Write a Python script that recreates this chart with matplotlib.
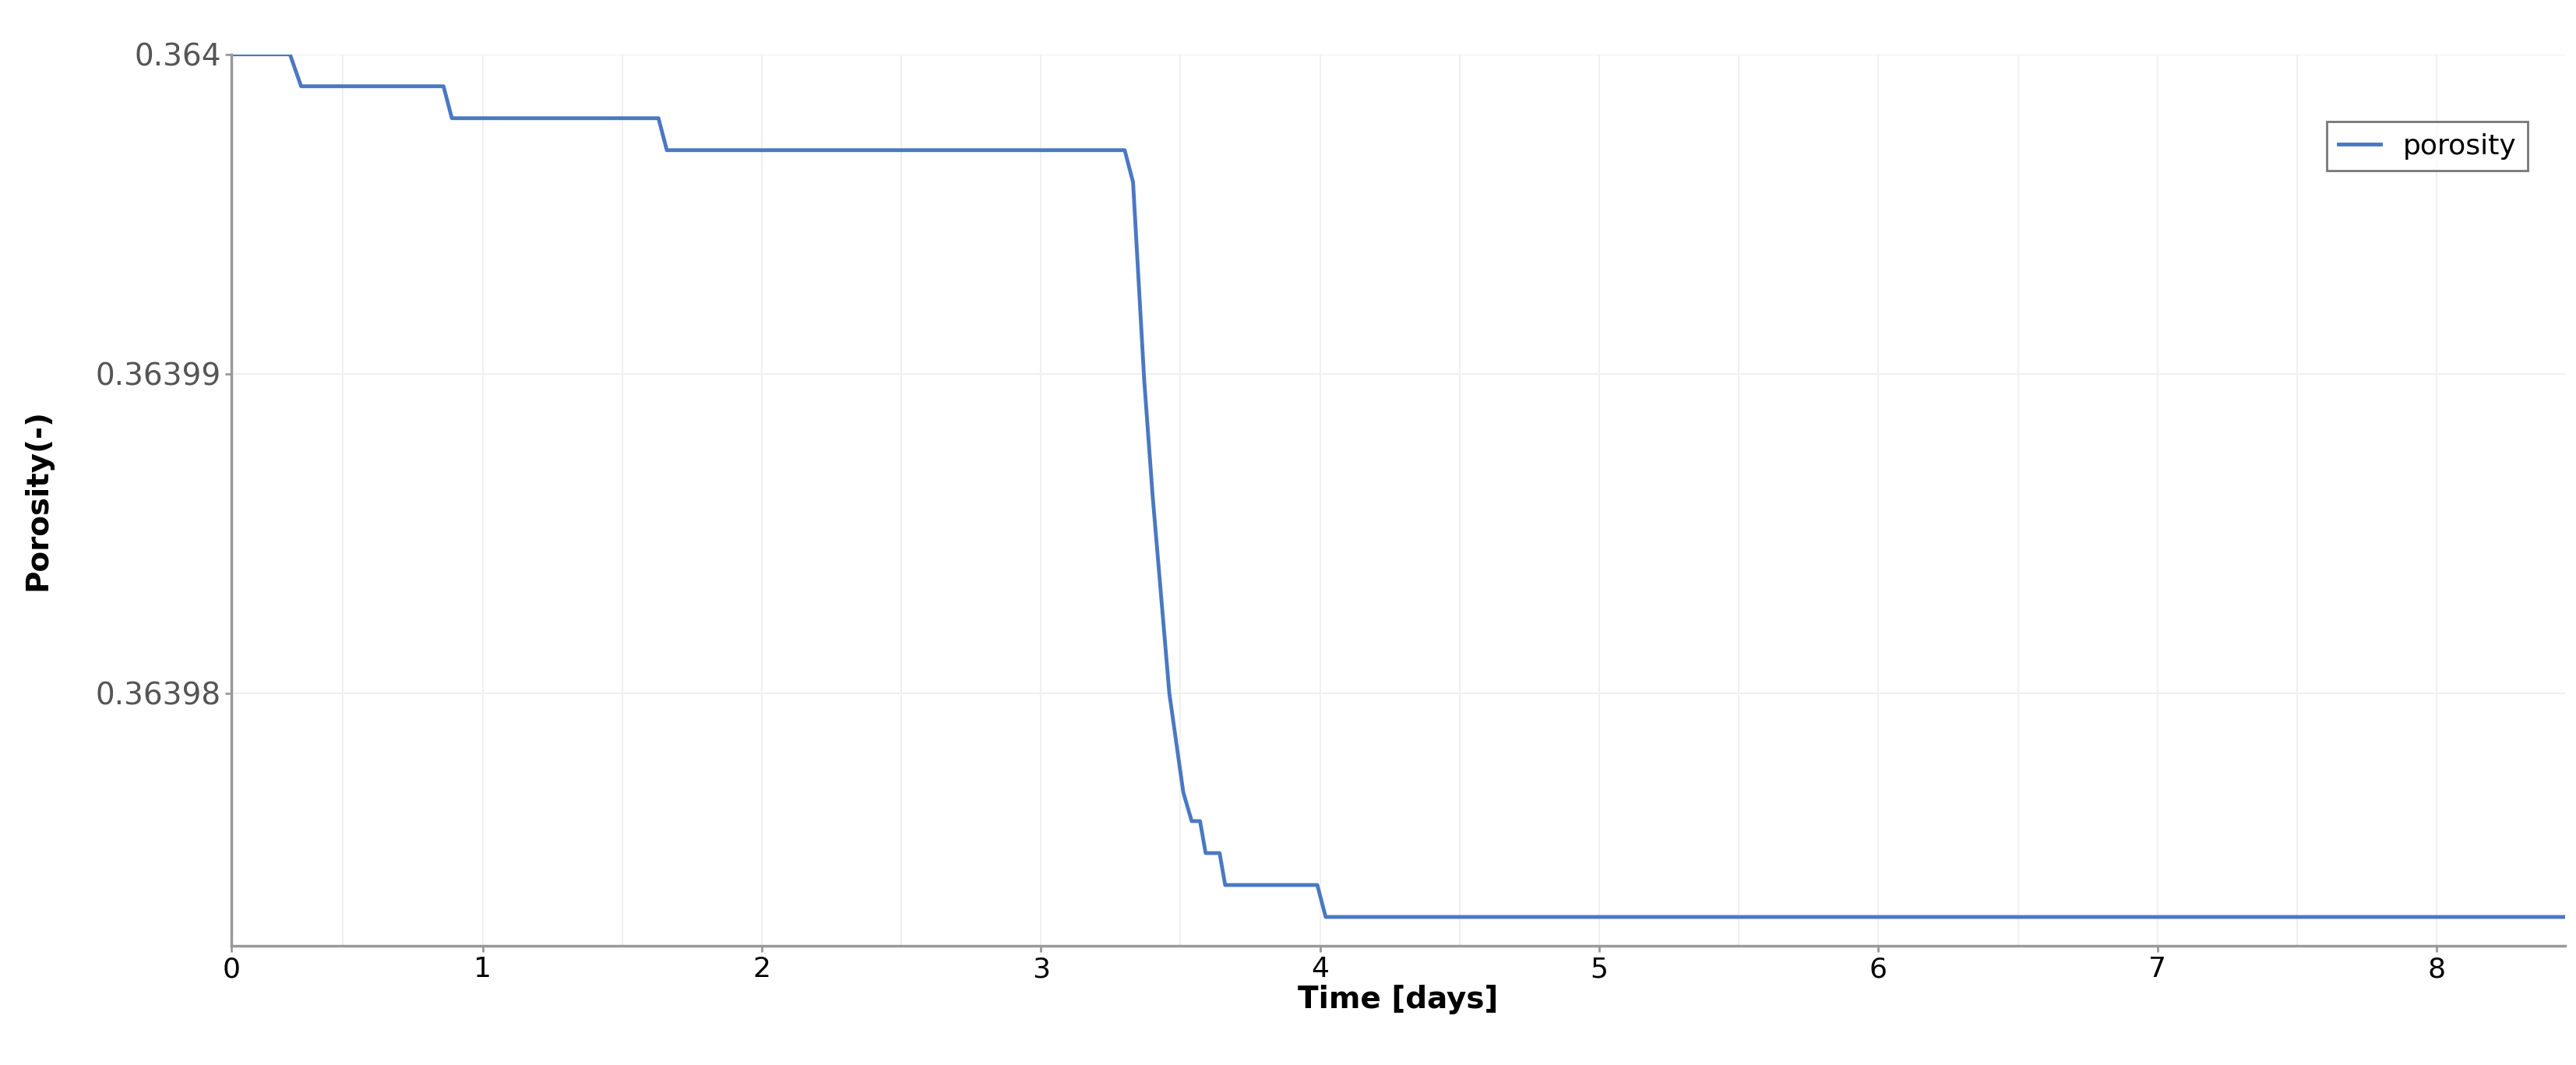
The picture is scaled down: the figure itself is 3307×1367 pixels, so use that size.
import numpy as np
import matplotlib
matplotlib.use("Agg")
from matplotlib import pyplot as plt

# time in days, porosity offset from 0.364 in units of 1e-6
time = [0.0, 0.31, 0.35, 0.86, 0.89, 1.63, 1.66, 3.30, 3.33, 3.37, 3.40,
        3.46, 3.51, 3.54, 3.57, 3.59, 3.64, 3.66, 3.99, 4.02, 8.46]
offset = [0.0, 0.0, -1.0, -1.0, -2.0, -2.0, -3.0, -3.0, -4.0, -10.2, -13.8,
          -20.0, -23.1, -24.0, -24.0, -25.0, -25.0, -26.0, -26.0, -27.0, -27.0]
porosity = 0.364 + np.array(offset) * 1e-6

xticks = [0.1, 1, 2, 3, 4, 5, 6, 7, 8]
xlabels = ["0", "1", "2", "3", "4", "5", "6", "7", "8"]
yticks = [0.364, 0.36399, 0.36398]
ylabels = ["0.364", "0.36399", "0.36398"]


def run():
    fig = plt.figure(figsize=(33.07, 13.67), dpi=100)
    ax = fig.add_axes([0.0898, 0.112, 0.906, 0.837])

    ax.plot(time, porosity, color="#4a78c2", lw=3.5, label="porosity")

    ax.set_xlim(0.1, 8.46)
    ax.set_ylim(0.364 - 27.9e-6, 0.364)
    ax.set_xticks(xticks)
    ax.set_xticklabels(xlabels, fontsize=26)
    ax.set_yticks(yticks)
    ax.set_yticklabels(ylabels, fontsize=28, color="#555555")
    ax.set_xticks(np.arange(0.5, 8.5, 1.0), minor=True)
    ax.grid(True, which="both", color="#f0f0f0", lw=1.5)
    ax.tick_params(axis="both", which="minor", length=0)
    ax.tick_params(axis="both", length=6, color="#999999", width=2)

    for side in ["top", "right"]:
        ax.spines[side].set_visible(False)
    for side in ["left", "bottom"]:
        ax.spines[side].set_color("#999999")
        ax.spines[side].set_linewidth(2.5)

    ax.set_xlabel("Time [days]", fontsize=28, fontweight="bold", labelpad=2)
    ax.set_ylabel("Porosity(-)", fontsize=28, fontweight="bold", labelpad=40)

    leg = ax.legend(loc="upper right", bbox_to_anchor=(0.99, 0.94), fontsize=26,
                    fancybox=False, edgecolor="#555555", handlelength=1.5)
    leg.get_frame().set_linewidth(2)

    fig.savefig("out.png", dpi=100)


if __name__ == "__main__":
    run()
